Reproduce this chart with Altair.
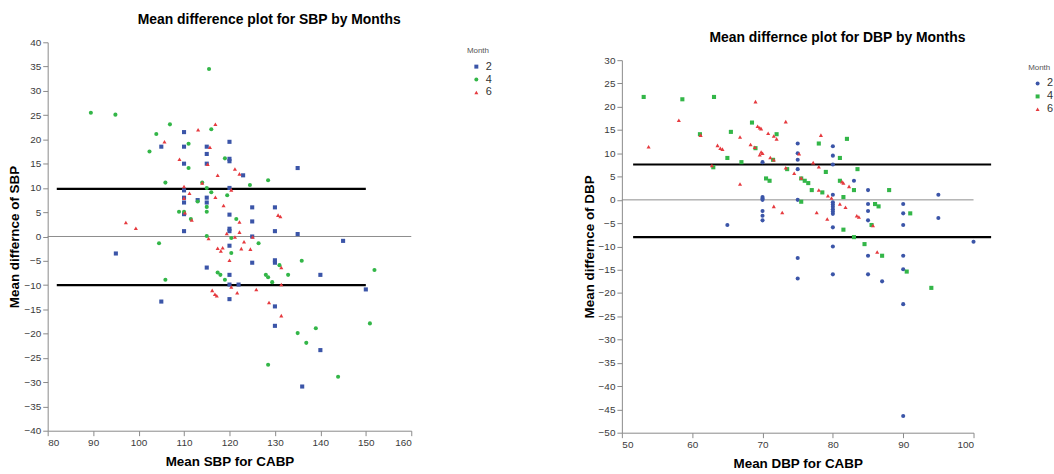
import altair as alt
import pandas as pd

# ---------------- SBP panel data ----------------
sbp_m2_x = [95,105,105,110,110,110,110,110,110,110,110,113,115,115,115,115,115,115,120,120,120,120,120,120,120,120,120,120,120,122,123,125,125,125,125,130,130,130,130,130,130,135,135,136,140,140,145,150]
sbp_m2_y = [-3.5,18.5,-13.4,21.5,18.5,15,9.5,8,7,4.6,1.1,7.5,18.5,17,15,8,7,-6.4,19.5,16,15.5,10,4.5,1.6,1.1,-1.9,-7.9,-9.9,-12.9,-9.9,12.6,6,3.1,0,-5.4,6,1.1,-4.9,-5.4,-14.4,-18.4,14.1,0.5,-30.9,-7.9,-23.4,-0.9,-10.9]
sbp_m4_x = [89.5,94.9,102.4,103.9,104.5,105.9,105.9,106.9,108.9,110,111,111,111.5,113,114,115,115,115,115,115.5,116,116,117.4,118,119,119,119.5,120.4,120.4,121.5,124.5,126.4,128,128.5,128.5,128.5,129.4,131,132.9,135,135.9,136.9,139,143.9,150.9,151.9]
sbp_m4_y = [25.5,25.1,17.5,21.1,-1.4,11.1,-8.9,23.1,5.1,5.1,19.1,14.1,3.6,7.2,11.1,10,6.1,5.1,0.1,34.5,22.1,9.1,-7.4,-7.9,-8.9,16.1,8.5,-3.4,-0.3,3.6,10.6,-1.4,-7.9,-8.4,11.6,-26.4,-9.4,-5.9,-7.9,-19.9,-5,-21.9,-18.9,-28.9,-17.9,-6.9]
sbp_m6_x = [97.2,99.4,105.7,109,110,110,110.2,111.2,111.7,113.1,114,115.2,115.7,115.4,116.2,116.8,117.2,116.9,116.9,117.4,117.4,118.1,118.5,118.7,119.4,120,120.4,120.4,121.2,121.2,121.7,122.2,122.2,122.2,122.6,123.2,124.6,125.1,125.9,128.7,130.7,131.2,131.4,131.4,131.4]
sbp_m6_y = [2.9,1.7,19.5,15.9,10.3,7.9,4.9,8.9,3.4,22,11,14.9,18.4,-0.4,-11.1,-11.9,-12.2,23.1,8.1,12.6,-2.4,-3,-2.3,6.4,0.6,-4.9,9.6,-10.4,13.9,-0.1,-11.6,12.9,3,0.9,-2.5,-1.1,-2.6,-0.1,-10.9,-13.6,4.4,4.1,-6.4,-9.9,-16.3]
sbp_limits = [9.8, -10.0]
sbp_limit_span = [82, 150]
sbp_zero_span = [80, 160]

# ---------------- DBP panel data ----------------
dbp_m2_x = [65,70,70,70,70,70,70,70,75,75,75,75,75,75,75,80,80,80,80,80,80,80,80,80,80,80,80,80,83,85,85,85,85,85,85,87,90,90,90,90,90,90,90,95,95,100]
dbp_m2_y = [-5.4,8.1,0.6,0.3,0,-2.4,-3.4,-4.4,12.1,10,8.6,6.6,0,-12.5,-16.9,11.5,9.5,7.6,1.1,-0.5,-1,-1.5,-2,-2.5,-3,-5.9,-10,-16,4.1,2.1,-0.9,-2.4,-4.4,-12,-16,-17.5,-0.9,-2.9,-5.4,-12,-14.9,-22.4,-46.4,1.1,-3.9,-9]
dbp_m4_x = [53.1,58.6,63.1,61.1,63,65,65.5,67,68.5,69,70.5,71,71.5,72,73.5,75.5,75.5,76,76.5,77,78,78.5,79,81,81,81.5,81.5,82,83,83,83.5,84.5,85.5,86,86.5,87,88,91,90.5,94]
dbp_m4_y = [22.1,21.6,22.1,14.1,7,9,14.6,8.1,16.6,11.1,4.6,4.1,8.6,14.1,6.6,-0.4,4.6,4.1,3.6,2.1,12.1,1.6,6,9,4.1,0.6,-6.4,13.1,2.1,-8,6.6,-9.5,-5.4,-0.9,-1.4,-12,2.1,-2.9,-15.4,-18.9]
dbp_m6_x = [53.8,58.1,61.2,62.8,63.6,64,64.3,66.8,66.8,68.3,68.9,69,69.3,69.6,69.8,69.6,69.8,70,70.8,71.1,71.6,71.6,71.6,72,72.8,73.3,73.3,74.5,75.2,75.5,77.2,77.7,78,78,78.3,79.2,79.3,79.8,81,81.3,81.5,81.8,82.3,83.4,83.7,85.7,86.3]
dbp_m6_y = [11.4,17.1,13.9,7.4,11.7,11.1,10.9,13.5,3.4,11.9,11.3,21.1,15.8,15.5,15.3,9.7,10.3,10,14.3,9.1,8.6,-1.4,13.7,13.1,-2.7,6.9,16.8,5.7,9.9,4.7,8,-2.7,7.1,2.1,13.9,-4.1,0.9,0.4,-0.9,3.9,3.6,-1.6,2.9,-3.4,-3.7,-5.5,-11.2]
dbp_limits = [7.6, -8.0]
dbp_limit_span = [51.6, 102.5]
dbp_zero_span = [50, 100]

months = ["2", "4", "6"]
month_colors = ["#3b55a8", "#33b648", "#e63a3f"]

FONT = "Liberation Sans"


def points_df(xs_list, ys_list):
    frames = []
    for m, xs, ys in zip(months, xs_list, ys_list):
        frames.append(pd.DataFrame({"x": xs, "y": ys, "Month": m}))
    return pd.concat(frames, ignore_index=True)


def panel(df, limits, limit_span, zero_span, xdom, ydom, xstep, ystep, w, h, top_gap, title_dy,
          shapes, title_text, xtitle, ytitle, leg_x, leg_y):
    xs = alt.Scale(domain=xdom, nice=False, zero=False)
    if top_gap:
        ys = alt.Scale(domain=ydom, nice=False, zero=False, range=[h, top_gap])
    else:
        ys = alt.Scale(domain=ydom, nice=False, zero=False)
    common = dict(grid=False, tickSize=5, domainColor="#8a8a8a", tickColor="#8a8a8a",
                  labelColor="#3a3a3a", labelFont=FONT, labelFontSize=10, labelPadding=2,
                  titleFont=FONT, titleFontSize=13.5, titleFontWeight="bold", titleColor="black",
                  labelOverlap=False)
    xaxis = alt.Axis(values=list(range(xdom[0], xdom[1] + 1, xstep)), title=xtitle,
                     titlePadding=7, **common)
    yaxis = alt.Axis(values=list(range(ydom[0], ydom[1] + 1, ystep)), title=ytitle,
                     titlePadding=2, labelFlush=False, **common)

    zero_df = pd.DataFrame({"x": [zero_span[0]], "x2": [zero_span[1]], "y": [0]})
    ref_df = pd.DataFrame({"x": [limit_span[0]] * 2, "x2": [limit_span[1]] * 2, "y": limits})

    X = alt.X("x:Q", scale=xs, axis=xaxis)
    Y = alt.Y("y:Q", scale=ys, axis=yaxis)

    zero_line = alt.Chart(zero_df).mark_rule(color="#8c8c8c", strokeWidth=1).encode(
        x=X, x2="x2:Q", y=Y)
    ref = alt.Chart(ref_df).mark_rule(color="black", strokeWidth=2.2).encode(
        x=X, x2="x2:Q", y=Y)
    pts = alt.Chart(df).mark_point(filled=True, opacity=1, size=17).encode(
        x=X, y=Y,
        color=alt.Color("Month:N", scale=alt.Scale(domain=months, range=month_colors),
                        legend=alt.Legend(title="Month", orient="none", legendX=leg_x, legendY=leg_y)),
        shape=alt.Shape("Month:N", scale=alt.Scale(domain=months, range=shapes)))

    return alt.layer(zero_line, ref, pts).properties(
        width=w, height=h,
        title=alt.TitleParams(text=title_text, font=FONT, fontSize=14, fontWeight="bold",
                              color="black", anchor="middle", dx=40, dy=title_dy, offset=10))


sbp_df = points_df([sbp_m2_x, sbp_m4_x, sbp_m6_x], [sbp_m2_y, sbp_m4_y, sbp_m6_y])
dbp_df = points_df([dbp_m2_x, dbp_m4_x, dbp_m6_x], [dbp_m2_y, dbp_m4_y, dbp_m6_y])

left = panel(sbp_df, sbp_limits, sbp_limit_span, sbp_zero_span, [80, 160], [-40, 40], 10, 5,
             366, 391, 0, 0, ["square", "circle", "triangle-up"],
             "Mean difference plot for SBP by Months",
             "Mean SBP for CABP", "Mean differnce of SBP", 422, 5)
right = panel(dbp_df, dbp_limits, dbp_limit_span, dbp_zero_span, [50, 100], [-50, 30], 10, 5,
              354, 393, 18, 13, ["circle", "square", "triangle-up"],
              "Mean differnce plot for DBP by Months",
              "Mean DBP for CABP", "Mean differnce of DBP", 409, 22)

chart = alt.hconcat(left, right, spacing=90).resolve_scale(
    color="independent", shape="independent"
).resolve_legend(color="independent", shape="independent").properties(
    padding={"left": 8, "top": 12, "right": 0, "bottom": 0},
    background="white"
).configure_view(stroke=None).configure_legend(
    titleFont=FONT, titleFontSize=8, titleFontWeight="normal", titleColor="#555555",
    labelFont=FONT, labelFontSize=11, labelColor="#333333", symbolSize=16,
    rowPadding=1, titlePadding=6, labelOffset=4, symbolOffset=4, padding=0
)

chart.save("out.html", embed_options={"renderer": "svg", "actions": False})
